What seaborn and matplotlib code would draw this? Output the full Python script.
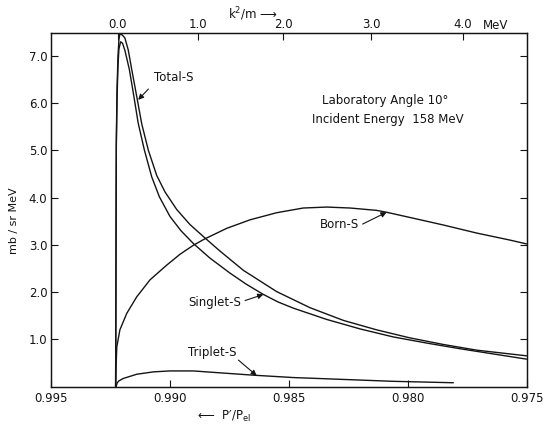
import numpy as np
import pandas as pd
import matplotlib
matplotlib.use("Agg")
import matplotlib.pyplot as plt
import seaborn as sns

# DATA (x = P'/P_el, y = mb / sr MeV)
total_r = [0.99230, 0.99229, 0.99228, 0.99227, 0.99224, 0.99220, 0.99216, 0.99212,
           0.99201, 0.99191, 0.99177, 0.99162, 0.99141, 0.99120, 0.99092, 0.99057,
           0.99022, 0.98973, 0.98917, 0.98857, 0.98791, 0.98692, 0.98552, 0.98412,
           0.98271, 0.98131, 0.97991, 0.97850, 0.97710, 0.97500]
total_v = [0.0, 1.5, 3.5, 5.2, 6.3, 7.0, 7.35, 7.47,
           7.44, 7.38, 7.13, 6.71, 6.14, 5.56, 5.00, 4.47,
           4.12, 3.75, 3.43, 3.16, 2.87, 2.46, 2.01, 1.67,
           1.40, 1.20, 1.03, 0.89, 0.77, 0.65]

singlet_r = [0.99230, 0.99229, 0.99228, 0.99227, 0.99224, 0.99220, 0.99216, 0.99209,
             0.99201, 0.99191, 0.99172, 0.99153, 0.99135, 0.99109, 0.99078, 0.99046,
             0.99001, 0.98955, 0.98903, 0.98833, 0.98748, 0.98681, 0.98608, 0.98546,
             0.98482, 0.98341, 0.98201, 0.98061, 0.97920, 0.97780, 0.97640, 0.97500]
singlet_v = [0.0, 1.5, 3.5, 5.1, 6.1, 6.8, 7.15, 7.30,
             7.27, 7.12, 6.71, 6.14, 5.58, 5.01, 4.44, 4.02,
             3.60, 3.30, 3.03, 2.72, 2.40, 2.17, 1.95, 1.79,
             1.66, 1.42, 1.22, 1.05, 0.92, 0.80, 0.69, 0.58]

born_r = [0.99230, 0.99228, 0.99225, 0.99212, 0.99183, 0.99141, 0.99085, 0.99015,
          0.98959, 0.98903, 0.98857, 0.98762, 0.98664, 0.98552, 0.98440, 0.98341,
          0.98243, 0.98131, 0.98089, 0.97991, 0.97850, 0.97710, 0.97569, 0.97500]
born_v = [0.0, 0.45, 0.84, 1.20, 1.55, 1.90, 2.26, 2.57,
          2.80, 2.99, 3.12, 3.35, 3.53, 3.68, 3.78, 3.80,
          3.78, 3.73, 3.69, 3.58, 3.42, 3.25, 3.10, 3.02]

triplet_r = [0.99228, 0.99223, 0.99216, 0.99198, 0.99141, 0.99071, 0.99001, 0.98903,
             0.98791, 0.98650, 0.98482, 0.98271, 0.98061, 0.97808]
triplet_v = [0.0, 0.08, 0.12, 0.17, 0.26, 0.31, 0.33, 0.33,
             0.29, 0.24, 0.19, 0.15, 0.11, 0.08]

bottom_ticks = [0.995, 0.990, 0.985, 0.980, 0.975]
y_ticks = [1, 2, 3, 4, 5, 6, 7]
top_tick_pos = [0.99220, 0.98883, 0.98525, 0.98155, 0.97767]
top_tick_labels = ["0.0", "1.0", "2.0", "3.0", "4.0"]

# STYLE
sns.set_theme(style="ticks")
plt.rcParams['font.family'] = ['DejaVu Sans']
ink = "#141414"

fig = plt.figure(figsize=(5.46, 4.24), dpi=100)
ax = fig.add_axes([0.0943, 0.0884, 0.870, 0.8331])

for r, v in [(total_r, total_v), (singlet_r, singlet_v),
             (born_r, born_v), (triplet_r, triplet_v)]:
    sns.lineplot(x=r, y=v, ax=ax, sort=False, estimator=None,
                 color=ink, linewidth=1.0)

ax.set_xlim(0.995, 0.975)
ax.set_ylim(0, 7.48)
ax.set_xticks(bottom_ticks)
ax.set_xticklabels([f"{t:.3f}" for t in bottom_ticks])
ax.set_yticks(y_ticks)
ax.set_yticklabels([f"{t:.1f}" for t in y_ticks])
ax.tick_params(direction="in", length=5, width=0.8, colors=ink, labelsize=8.5,
               right=True, top=False)
ax.tick_params(axis="x", pad=4)
ax.tick_params(axis="y", pad=3)
for s in ax.spines.values():
    s.set_visible(True)
    s.set_linewidth(0.9)
    s.set_color(ink)

# top axis in k^2/m
ax2 = ax.twiny()
ax2.set_xlim(ax.get_xlim())
ax2.set_xticks(top_tick_pos)
ax2.set_xticklabels(top_tick_labels)
ax2.tick_params(direction="in", length=5, width=0.8, colors=ink, labelsize=8.5, pad=2)
for s in ax2.spines.values():
    s.set_linewidth(0.9)
    s.set_color(ink)

# labels
fig.text(0.026, 0.479, "mb / sr MeV", rotation=90, ha="center", va="center",
         fontsize=8, color=ink)
fig.text(0.463, 0.967, "k$^2$/m ⟶", ha="center", va="center", fontsize=8.5, color=ink)
fig.text(0.908, 0.939, "MeV", ha="center", va="center", fontsize=8.5, color=ink)
fig.text(0.41, 0.018, "⟵  P′/P$_{\\rm el}$", ha="center", va="center",
         fontsize=8.5, color=ink)

ax.text(0.98096, 6.05, "Laboratory Angle 10°", ha="center", va="center",
        fontsize=8.5, color=ink)
ax.text(0.98083, 5.65, "Incident Energy  158 MeV", ha="center", va="center",
        fontsize=8.5, color=ink)

arrow = dict(arrowstyle="-|>", color=ink, lw=0.8, mutation_scale=8, shrinkA=0, shrinkB=0)
ax.text(0.98984, 6.54, "Total-S", ha="center", va="center", fontsize=8.5, color=ink)
ax.annotate("", xy=(0.99135, 6.07), xytext=(0.99092, 6.30), arrowprops=arrow)
ax.text(0.98814, 1.77, "Singlet-S", ha="center", va="center", fontsize=8.5, color=ink)
ax.annotate("", xy=(0.98608, 1.95), xytext=(0.98685, 1.82), arrowprops=arrow)
ax.text(0.98289, 3.44, "Born-S", ha="center", va="center", fontsize=8.5, color=ink)
ax.annotate("", xy=(0.98089, 3.69), xytext=(0.98190, 3.44), arrowprops=arrow)
ax.text(0.98824, 0.71, "Triplet-S", ha="center", va="center", fontsize=8.5, color=ink)
ax.annotate("", xy=(0.98636, 0.23), xytext=(0.98713, 0.56), arrowprops=arrow)

fig.savefig("out.png", dpi=100, facecolor="white")
